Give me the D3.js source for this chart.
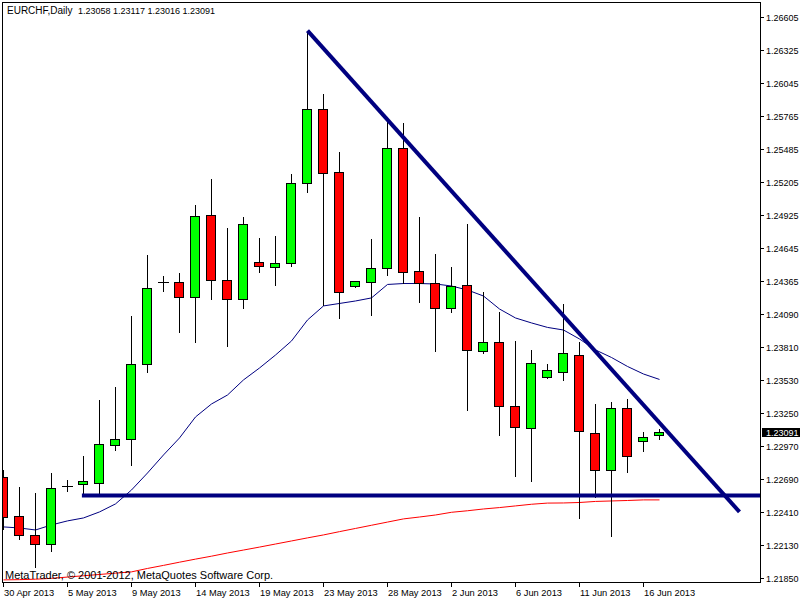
<!DOCTYPE html>
<html><head><meta charset="utf-8">
<script src="https://cdn.jsdelivr.net/npm/d3@7"></script>
<style>
body{margin:0;background:#fff}
svg{display:block}
text{font-family:"Liberation Sans",Arial,sans-serif;font-size:9px;fill:#000;white-space:pre}
</style>
</head><body><svg id="c" width="800" height="600"></svg>
<script>
// ---- data ----
const dates = ["30 Apr 2013","1 May 2013","2 May 2013","3 May 2013","5 May 2013","6 May 2013","7 May 2013","8 May 2013",
"9 May 2013","10 May 2013","12 May 2013","13 May 2013","14 May 2013","15 May 2013","16 May 2013","17 May 2013",
"19 May 2013","20 May 2013","21 May 2013","22 May 2013","23 May 2013","24 May 2013","26 May 2013","27 May 2013",
"28 May 2013","29 May 2013","30 May 2013","31 May 2013","2 Jun 2013","3 Jun 2013","4 Jun 2013","5 Jun 2013",
"6 Jun 2013","7 Jun 2013","9 Jun 2013","10 Jun 2013","11 Jun 2013","12 Jun 2013","13 Jun 2013","14 Jun 2013",
"16 Jun 2013","17 Jun 2013"];
const openP  = [1.22704,1.22373,1.22215,1.22136,1.22633,1.22645,1.22658,1.22975,1.23026,1.23662,1.24362,1.24357,1.24229,1.24924,1.24374,1.24213,
1.24526,1.24484,1.24518,1.25196,1.25823,1.25289,1.24328,1.24357,1.24475,1.25492,1.24450,1.24348,1.24136,1.24331,1.23772,1.23848,
1.23306,1.23119,1.23551,1.23594,1.23738,1.23077,1.22763,1.23289,1.23009,1.23058];
const highP  = [1.22766,1.22624,1.22573,1.22743,1.22681,1.22885,1.23359,1.23472,1.24071,1.24588,1.24413,1.24435,1.25012,1.25232,1.24817,1.24910,
1.24732,1.24749,1.25274,1.26489,1.25952,1.25461,1.24370,1.24724,1.25718,1.25704,1.24910,1.24594,1.24484,1.24851,1.24274,1.24105,
1.23859,1.23783,1.23664,1.24173,1.23848,1.23325,1.23342,1.23368,1.23088,1.23117];
const lowP   = [1.22257,1.22173,1.21938,1.22073,1.22582,1.22550,1.22554,1.22929,1.22802,1.23590,1.24277,1.23929,1.23845,1.24209,1.23811,1.24133,
1.24438,1.24328,1.24489,1.25116,1.24158,1.24048,1.24311,1.24074,1.24413,1.24340,1.24184,1.23768,1.24094,1.23268,1.23751,1.23056,
1.22709,1.22667,1.23537,1.23523,1.22353,1.22526,1.22201,1.22743,1.22921,1.23016];
const closeP = [1.22365,1.22212,1.22136,1.22611,1.22633,1.22673,1.22986,1.23026,1.23662,1.24306,1.24362,1.24229,1.24916,1.24374,1.24213,1.24848,
1.24492,1.24518,1.25196,1.25823,1.25280,1.24272,1.24365,1.24475,1.25492,1.24446,1.24348,1.24136,1.24328,1.23780,1.23848,1.23306,
1.23128,1.23670,1.23611,1.23755,1.23094,1.22763,1.23289,1.22882,1.23043,1.23091];
const maFast = [1.22283,1.22274,1.22257,1.22300,1.22334,1.22359,1.22410,1.22478,1.22596,1.22740,1.22893,1.23037,1.23215,1.23325,1.23401,1.23529,
1.23630,1.23740,1.23859,1.24037,1.24156,1.24177,1.24198,1.24224,1.24338,1.24346,1.24346,1.24342,1.24325,1.24291,1.24240,1.24130,
1.24054,1.24012,1.23974,1.23952,1.23876,1.23783,1.23719,1.23643,1.23579,1.23533];
const maSlow = [1.21834,1.21836,1.21840,1.21847,1.21858,1.21869,1.21880,1.21891,1.21902,1.21931,1.21957,1.21984,1.22010,1.22035,1.22062,1.22087,
1.22112,1.22138,1.22164,1.22190,1.22215,1.22243,1.22270,1.22297,1.22324,1.22351,1.22367,1.22384,1.22407,1.22420,1.22435,1.22447,
1.22461,1.22475,1.22485,1.22486,1.22490,1.22499,1.22503,1.22507,1.22512,1.22512];
const priceTicks = [1.26605,1.26325,1.26045,1.25765,1.25485,1.25205,1.24925,1.24645,1.24365,1.24090,1.23810,1.23530,1.23250,1.22970,1.22690,1.22410,1.22130,1.21850];
const trendLine = [[19,1.26489],[46,1.22410]];
const supportLine = [[4.9,1.22550],[48,1.22550]];
const symbolLabel = "EURCHF,Daily";
const ohlcLabel = "1.23058 1.23117 1.23016 1.23091";
const watermark = "MetaTrader, © 2001-2012, MetaQuotes Software Corp.";
const lastPrice = 1.23091;

// ---- drawing ----
const svg = d3.select("#c");
const L=2.5, R=760.5, T=2.5, B=582.5;
const x = d3.scaleLinear().domain([0,41]).range([3,659]);
const y = d3.scaleLinear().domain([1.21850,1.26605]).range([578,17]);
const cx = i => x(i)+0.5;

svg.append("defs").append("clipPath").attr("id","plot")
  .append("rect").attr("x",3).attr("y",3).attr("width",757).attr("height",579);
const g = svg.append("g").attr("clip-path","url(#plot)");

// slow MA (red)
g.append("path").datum(maSlow).attr("fill","none").attr("stroke","#ff0000").attr("stroke-width",1)
  .attr("d", d3.line().x((d,i)=>cx(i)).y(d=>y(d)));
// fast MA (navy)
g.append("path").datum(maFast).attr("fill","none").attr("stroke","#000080").attr("stroke-width",1)
  .attr("d", d3.line().x((d,i)=>cx(i)).y(d=>y(d)));

// candles
const idx = d3.range(dates.length);
g.selectAll("line.wick").data(idx).join("line").attr("class","wick")
  .attr("x1",cx).attr("x2",cx).attr("y1",i=>Math.round(y(highP[i]))).attr("y2",i=>Math.round(y(lowP[i])))
  .attr("stroke","#000").attr("stroke-width",1).attr("shape-rendering","crispEdges");
idx.forEach(i=>{
  const o=openP[i], c=closeP[i];
  const top=Math.round(y(Math.max(o,c))), bot=Math.round(y(Math.min(o,c)));
  if (bot-top < 1) {
    g.append("line").attr("x1",x(i)-5).attr("x2",x(i)+6).attr("y1",top+0.5).attr("y2",top+0.5)
      .attr("stroke","#000").attr("shape-rendering","crispEdges");
  } else {
    g.append("rect").attr("x",x(i)-4.5).attr("y",top+0.5).attr("width",9).attr("height",bot-top)
      .attr("fill", c>=o ? "#00ff00" : "#ff0000").attr("stroke","#000").attr("stroke-width",1)
      .attr("shape-rendering","crispEdges");
  }
});

// drawn trend lines
const tl = d3.line().x(d=>cx(d[0])).y(d=>y(d[1]));
g.append("path").datum(trendLine).attr("d",tl).attr("stroke","#000080").attr("stroke-width",4).attr("fill","none");
g.append("path").datum(supportLine).attr("d",tl).attr("stroke","#000080").attr("stroke-width",4).attr("fill","none");

// frame
svg.append("path").attr("d",`M${L},${T}H${R}V${B}H${L}Z`).attr("fill","none").attr("stroke","#000").attr("shape-rendering","crispEdges");

// price axis
const ya = svg.append("g");
priceTicks.forEach(p=>{
  const yy=Math.round(y(p))+0.5;
  ya.append("line").attr("x1",760).attr("x2",764).attr("y1",yy).attr("y2",yy).attr("stroke","#000").attr("shape-rendering","crispEdges");
  ya.append("text").attr("x",766).attr("y",yy+3.3).text(p.toFixed(5));
});
// last price box
const ly = y(lastPrice);
svg.append("rect").attr("x",762).attr("y",Math.round(ly)-4).attr("width",38).attr("height",9).attr("fill","#000");
svg.append("text").attr("x",766).attr("y",Math.round(ly)+3.5).style("fill","#fff").text(lastPrice.toFixed(5));

// time axis
idx.filter(i=>i%4===0).forEach(i=>{
  svg.append("line").attr("x1",cx(i)).attr("x2",cx(i)).attr("y1",582).attr("y2",587).attr("stroke","#000").attr("shape-rendering","crispEdges");
  svg.append("text").attr("x",x(i)+1).attr("y",595.5).style("font-size","9.3px").text(dates[i]);
});

// texts
svg.append("text").attr("x",7).attr("y",14).style("font-size","10px").text(symbolLabel);
svg.append("text").attr("x",78).attr("y",14).text(ohlcLabel);
svg.append("text").attr("x",5).attr("y",578.5).style("font-size","11px").text(watermark);
</script>
</body></html>
